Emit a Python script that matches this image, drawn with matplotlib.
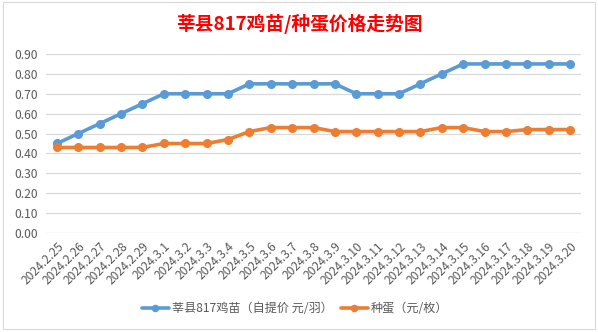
import matplotlib
matplotlib.use("Agg")
import matplotlib.pyplot as plt
from matplotlib.patches import Rectangle

plt.rcParams['font.family'] = ['Noto Sans CJK SC', 'DejaVu Sans']

dates = ["2024.2.25", "2024.2.26", "2024.2.27", "2024.2.28", "2024.2.29",
         "2024.3.1", "2024.3.2", "2024.3.3", "2024.3.4", "2024.3.5",
         "2024.3.6", "2024.3.7", "2024.3.8", "2024.3.9", "2024.3.10",
         "2024.3.11", "2024.3.12", "2024.3.13", "2024.3.14", "2024.3.15",
         "2024.3.16", "2024.3.17", "2024.3.18", "2024.3.19", "2024.3.20"]
chick = [0.45, 0.50, 0.55, 0.60, 0.65, 0.70, 0.70, 0.70, 0.70, 0.75,
         0.75, 0.75, 0.75, 0.75, 0.70, 0.70, 0.70, 0.75, 0.80, 0.85,
         0.85, 0.85, 0.85, 0.85, 0.85]
egg = [0.43, 0.43, 0.43, 0.43, 0.43, 0.45, 0.45, 0.45, 0.47, 0.51,
       0.53, 0.53, 0.53, 0.51, 0.51, 0.51, 0.51, 0.51, 0.53, 0.53,
       0.51, 0.51, 0.52, 0.52, 0.52]
yticks = [0.00, 0.10, 0.20, 0.30, 0.40, 0.50, 0.60, 0.70, 0.80, 0.90]
title = "莘县817鸡苗/种蛋价格走势图"
label_chick = "莘县817鸡苗（自提价 元/羽）"
label_egg = "种蛋（元/枚）"

W, H = 598, 332
fig = plt.figure(figsize=(W / 100, H / 100), dpi=100)
ax = fig.add_axes([46.3 / W, 1 - 233 / H, (580.7 - 46.3) / W, (233 - 54) / H])

x = list(range(len(dates)))
ax.plot(x, chick, color="#5B9BD5", lw=2.6, marker="o", ms=5.5, label=label_chick,
        solid_capstyle="round", zorder=3)
ax.plot(x, egg, color="#ED7D31", lw=2.6, marker="o", ms=5.5, label=label_egg,
        solid_capstyle="round", zorder=3)

ax.set_xlim(-0.5, len(dates) - 0.5)
ax.set_ylim(0, 0.9)
ax.set_yticks(yticks)
ax.set_yticklabels([f"{v:.2f}" for v in yticks])
ax.set_xticks(x)
ax.set_xticklabels(dates, rotation=45, ha="right", va="top", rotation_mode="anchor")
ax.grid(axis="y", color="#D9D9D9", lw=0.9)
ax.set_axisbelow(True)
for s in ax.spines.values():
    s.set_visible(False)
ax.tick_params(axis="both", length=0, colors="#595959", labelsize=8.7)
ax.tick_params(axis="y", pad=6)
ax.tick_params(axis="x", pad=5)

fig.text(299 / W, 1 - 24 / H, title, color="#FF0000", fontsize=13.5, fontweight="bold",
         ha="center", va="center")

leg = fig.legend(loc="center", bbox_to_anchor=(295 / W, 1 - 309 / H), ncol=2,
                 frameon=False, fontsize=8.7, handlelength=2.2, columnspacing=0.7,
                 handletextpad=0.25, labelcolor="#595959", markerscale=0.8)

fig.patches.append(Rectangle((3 / W, 1 - 329 / H), 592 / W, 327 / H, transform=fig.transFigure,
                             fill=False, edgecolor="#D9D9D9", lw=0.8))

fig.savefig("out.png", dpi=100, facecolor="white")
